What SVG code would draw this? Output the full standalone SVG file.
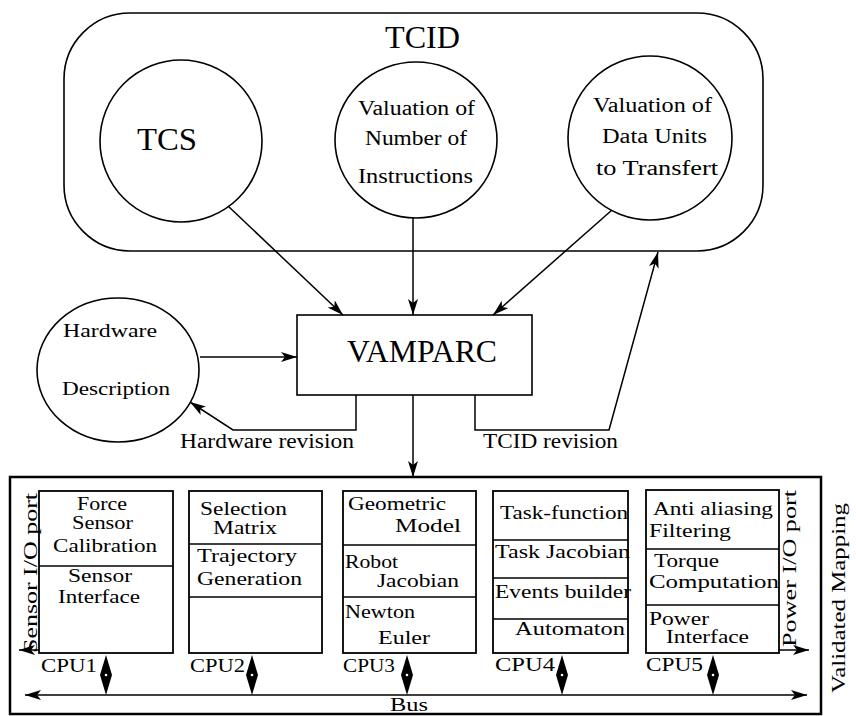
<svg xmlns="http://www.w3.org/2000/svg" width="856" height="716" viewBox="0 0 856 716" font-family="'Liberation Serif', 'Times New Roman', serif">
<style>
text{font-family:"Liberation Serif","Times New Roman",serif;fill:#000}
.s{fill:none;stroke:#000;stroke-width:1.6}
.b{fill:#fff;stroke:#000;stroke-width:1.8}
.c{stroke:#000;stroke-width:1.5;fill:none}
.t19{font-size:19px}
.t20{font-size:20px}
.t18{font-size:18px}
.big{font-size:32px}
</style>
<defs>
<marker id="ah" viewBox="0 0 16 10" refX="16" refY="5" markerWidth="16" markerHeight="10" markerUnits="userSpaceOnUse" orient="auto-start-reverse">
<path d="M0,0 L16,5 L0,10 L4,5 Z" fill="#000"/>
</marker>
</defs>
<rect width="856" height="716" fill="#fff"/>

<g id="tcid">
<rect x="64" y="13" width="699" height="238" rx="66" ry="66" class="s"/>
<text class="big" x="385" y="48" textLength="75" lengthAdjust="spacingAndGlyphs">TCID</text>
</g>
<g id="tcs">
<ellipse cx="181" cy="141" rx="81" ry="81" class="s"/>
<text class="big" x="137" y="150" textLength="60" lengthAdjust="spacingAndGlyphs">TCS</text>
</g>
<g id="valnum">
<ellipse cx="416" cy="140" rx="81" ry="78" class="s"/>
<text class="t20" x="358" y="115" textLength="117" lengthAdjust="spacingAndGlyphs">Valuation of</text>
<text class="t20" x="365" y="145" textLength="102" lengthAdjust="spacingAndGlyphs">Number of</text>
<text class="t20" x="358" y="183" textLength="115" lengthAdjust="spacingAndGlyphs">Instructions</text>
</g>
<g id="valdata">
<ellipse cx="650" cy="138" rx="82" ry="82" class="s"/>
<text class="t20" x="593" y="112" textLength="119" lengthAdjust="spacingAndGlyphs">Valuation of</text>
<text class="t20" x="602" y="143" textLength="105" lengthAdjust="spacingAndGlyphs">Data Units</text>
<text class="t20" x="596" y="175" textLength="122" lengthAdjust="spacingAndGlyphs">to Transfert</text>
</g>
<g id="hardware">
<ellipse cx="118" cy="370" rx="81" ry="72" class="s"/>
<text class="t18" x="63" y="337" textLength="94" lengthAdjust="spacingAndGlyphs">Hardware</text>
<text class="t18" x="62" y="395" textLength="108" lengthAdjust="spacingAndGlyphs">Description</text>
</g>
<g id="vamparc">
<rect x="297" y="315" width="235" height="80" class="s"/>
<text class="big" x="347" y="362" textLength="150" lengthAdjust="spacingAndGlyphs">VAMPARC</text>
</g>

<g id="connectors">
<line x1="228" y1="206" x2="343" y2="315" class="c" marker-end="url(#ah)"/>
<line x1="413" y1="218" x2="413" y2="315" class="c" marker-end="url(#ah)"/>
<line x1="612" y1="210" x2="493" y2="315" class="c" marker-end="url(#ah)"/>
<line x1="200" y1="357" x2="297" y2="357" class="c" marker-end="url(#ah)"/>
<polyline points="356,395 356,430 233,430 190,402" class="c" marker-end="url(#ah)"/>
<polyline points="475,395 475,430 609,430 658,252" class="c" marker-end="url(#ah)"/>
<line x1="413" y1="395" x2="413" y2="477" class="c" marker-end="url(#ah)"/>
<text class="t20" x="180" y="448" textLength="174" lengthAdjust="spacingAndGlyphs">Hardware revision</text>
<text class="t20" x="483" y="448" textLength="135" lengthAdjust="spacingAndGlyphs">TCID revision</text>
</g>

<g id="mapping">
<rect x="10" y="477" width="811" height="237" fill="none" stroke="#000" stroke-width="2.5"/>
<text class="t19" transform="translate(845,693) rotate(-90)" textLength="190" lengthAdjust="spacingAndGlyphs">Validated Mapping</text>
</g>

<g id="cpu1">
<rect x="39" y="491" width="134" height="162" class="b"/>
<line x1="39" y1="566" x2="173" y2="566" class="c"/>
<text class="t19" x="77" y="510" textLength="50" lengthAdjust="spacingAndGlyphs">Force</text>
<text class="t19" x="72" y="529" textLength="61" lengthAdjust="spacingAndGlyphs">Sensor</text>
<text class="t19" x="53" y="552" textLength="104" lengthAdjust="spacingAndGlyphs">Calibration</text>
<text class="t19" x="68" y="582" textLength="64" lengthAdjust="spacingAndGlyphs">Sensor</text>
<text class="t19" x="58" y="603" textLength="82" lengthAdjust="spacingAndGlyphs">Interface</text>
<text class="t19" x="41" y="672" textLength="56" lengthAdjust="spacingAndGlyphs">CPU1</text>
</g>
<g id="cpu2">
<rect x="189" y="491" width="133" height="162" class="b"/>
<line x1="189" y1="544" x2="322" y2="544" class="c"/>
<line x1="189" y1="597" x2="322" y2="597" class="c"/>
<text class="t19" x="200" y="515" textLength="87" lengthAdjust="spacingAndGlyphs">Selection</text>
<text class="t19" x="213" y="534" textLength="64" lengthAdjust="spacingAndGlyphs">Matrix</text>
<text class="t19" x="197" y="562" textLength="100" lengthAdjust="spacingAndGlyphs">Trajectory</text>
<text class="t19" x="197" y="585" textLength="105" lengthAdjust="spacingAndGlyphs">Generation</text>
<text class="t19" x="190" y="672" textLength="55" lengthAdjust="spacingAndGlyphs">CPU2</text>
</g>
<g id="cpu3">
<rect x="343" y="491" width="133" height="162" class="b"/>
<line x1="343" y1="545" x2="476" y2="545" class="c"/>
<line x1="343" y1="597" x2="476" y2="597" class="c"/>
<text class="t19" x="348" y="510" textLength="98" lengthAdjust="spacingAndGlyphs">Geometric</text>
<text class="t19" x="395" y="532" textLength="66" lengthAdjust="spacingAndGlyphs">Model</text>
<text class="t19" x="345" y="568" textLength="53" lengthAdjust="spacingAndGlyphs">Robot</text>
<text class="t19" x="377" y="587" textLength="82" lengthAdjust="spacingAndGlyphs">Jacobian</text>
<text class="t19" x="345" y="618" textLength="70" lengthAdjust="spacingAndGlyphs">Newton</text>
<text class="t19" x="378" y="644" textLength="52" lengthAdjust="spacingAndGlyphs">Euler</text>
<text class="t19" x="343" y="672" textLength="52" lengthAdjust="spacingAndGlyphs">CPU3</text>
</g>
<g id="cpu4">
<rect x="493" y="491" width="135" height="162" class="b"/>
<line x1="493" y1="540" x2="628" y2="540" class="c"/>
<line x1="493" y1="578" x2="628" y2="578" class="c"/>
<line x1="493" y1="619" x2="628" y2="619" class="c"/>
<text class="t19" x="500" y="519" textLength="128" lengthAdjust="spacingAndGlyphs">Task-function</text>
<text class="t19" x="495" y="558" textLength="135" lengthAdjust="spacingAndGlyphs">Task Jacobian</text>
<text class="t19" x="495" y="598" textLength="136" lengthAdjust="spacingAndGlyphs">Events builder</text>
<text class="t19" x="515" y="635" textLength="110" lengthAdjust="spacingAndGlyphs">Automaton</text>
<text class="t19" x="495" y="671" textLength="60" lengthAdjust="spacingAndGlyphs">CPU4</text>
</g>
<g id="cpu5">
<rect x="646" y="490" width="133" height="163" class="b"/>
<line x1="646" y1="549" x2="779" y2="549" class="c"/>
<line x1="646" y1="605" x2="779" y2="605" class="c"/>
<text class="t19" x="653" y="515" textLength="120" lengthAdjust="spacingAndGlyphs">Anti aliasing</text>
<text class="t19" x="649" y="537" textLength="82" lengthAdjust="spacingAndGlyphs">Filtering</text>
<text class="t19" x="654" y="567" textLength="65" lengthAdjust="spacingAndGlyphs">Torque</text>
<text class="t19" x="649" y="588" textLength="130" lengthAdjust="spacingAndGlyphs">Computation</text>
<text class="t19" x="649" y="625" textLength="60" lengthAdjust="spacingAndGlyphs">Power</text>
<text class="t19" x="666" y="643" textLength="83" lengthAdjust="spacingAndGlyphs">Interface</text>
<text class="t19" x="646" y="671" textLength="57" lengthAdjust="spacingAndGlyphs">CPU5</text>
</g>

<g id="ports">
<text class="t19" transform="translate(37,653) rotate(-90)" textLength="160" lengthAdjust="spacingAndGlyphs">Sensor I/O port</text>
<line x1="39" y1="650" x2="19" y2="650" class="c" marker-end="url(#ah)"/>
<text class="t19" transform="translate(796,647) rotate(-90)" textLength="157" lengthAdjust="spacingAndGlyphs">Power I/O port</text>
<line x1="779" y1="650" x2="809" y2="650" class="c" marker-end="url(#ah)"/>
</g>

<g id="bus">
<line x1="25" y1="695" x2="807" y2="695" class="c" marker-start="url(#ah)" marker-end="url(#ah)"/>
<text class="t19" x="390" y="711" textLength="38" lengthAdjust="spacingAndGlyphs">Bus</text>
<g fill="#000">
<path d="M106,655 L112,675 L106,695 L100,675 Z"/>
<path d="M252,655 L258,675 L252,695 L246,675 Z"/>
<path d="M407,655 L413,675 L407,695 L401,675 Z"/>
<path d="M562,655 L568,675 L562,695 L556,675 Z"/>
<path d="M713,655 L719,675 L713,695 L707,675 Z"/>
</g>
<g fill="#fff">
<circle cx="106" cy="675" r="1.3"/>
<circle cx="252" cy="675" r="1.3"/>
<circle cx="407" cy="675" r="1.3"/>
<circle cx="562" cy="675" r="1.3"/>
<circle cx="713" cy="675" r="1.3"/>
</g>
</g>
</svg>
